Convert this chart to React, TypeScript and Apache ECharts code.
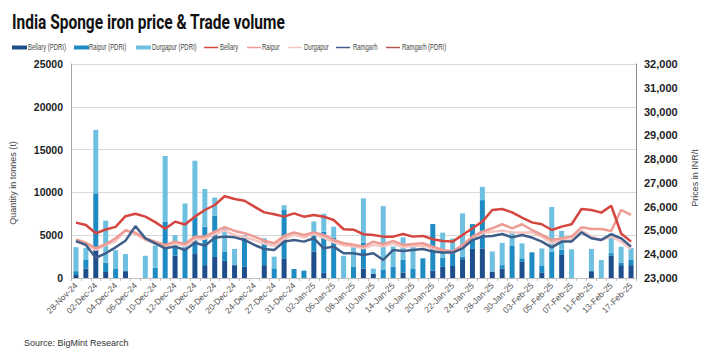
import React, { useEffect, useRef } from "react";
import * as echarts from "echarts";

const dates = [
  "28-Nov-24", "29-Nov-24", "02-Dec-24", "03-Dec-24", "04-Dec-24", "05-Dec-24", "06-Dec-24", "09-Dec-24",
  "10-Dec-24", "11-Dec-24", "12-Dec-24", "13-Dec-24", "16-Dec-24", "17-Dec-24", "18-Dec-24", "19-Dec-24",
  "20-Dec-24", "23-Dec-24", "24-Dec-24", "26-Dec-24", "27-Dec-24", "30-Dec-24", "31-Dec-24", "01-Jan-25",
  "02-Jan-25", "03-Jan-25", "06-Jan-25", "07-Jan-25", "08-Jan-25", "09-Jan-25", "10-Jan-25", "13-Jan-25",
  "14-Jan-25", "15-Jan-25", "16-Jan-25", "17-Jan-25", "20-Jan-25", "21-Jan-25", "22-Jan-25", "23-Jan-25",
  "24-Jan-25", "27-Jan-25", "28-Jan-25", "29-Jan-25", "30-Jan-25", "31-Jan-25", "03-Feb-25", "04-Feb-25",
  "05-Feb-25", "06-Feb-25", "07-Feb-25", "10-Feb-25", "11-Feb-25", "12-Feb-25", "13-Feb-25", "14-Feb-25",
  "17-Feb-25",
];

const bellaryVol = [
  350, 1100, 3500, 700, 0, 800, 0, 0, 0, 0, 2600, 0, 2800, 1500, 2450, 2000,
  1500, 1300, 0, 1500, 0, 2300, 0, 0, 3100, 600, 0, 0, 0, 1100, 500, 0,
  0, 650, 0, 0, 850, 1300, 1400, 2200, 3400, 3450, 750, 1100, 0, 1900, 0, 600,
  0, 2700, 0, 0, 800, 0, 2600, 1500, 1500,
];
const raipurVol = [
  450, 1000, 6400, 1100, 1050, 0, 0, 0, 1200, 6600, 1200, 3300, 4300, 4500, 4850, 1100,
  0, 3500, 0, 2700, 1050, 5700, 1050, 860, 2300, 4800, 4700, 0, 1300, 3000, 0, 1000,
  1300, 1500, 1050, 2300, 5450, 1100, 1500, 300, 2900, 5650, 0, 400, 3800, 400, 3000, 800,
  3100, 600, 0, 0, 0, 0, 300, 300, 600,
];
const durgapurVol = [
  2800, 1400, 7400, 4900, 2200, 2000, 0, 2600, 2600, 7650, 1200, 5400, 6600, 4400, 2100, 2700,
  1900, 200, 0, 450, 1450, 500, 0, 0, 1200, 2100, 1300, 2600, 2300, 5200, 600, 7400,
  2400, 2600, 2650, 0, 0, 2900, 1700, 5050, 0, 1550, 2350, 2600, 1600, 1750, 0, 2050,
  5200, 2200, 3350, 0, 2600, 2100, 2300, 1850, 1400,
];

const bellaryPrice = [
  25330, 25230, 24880, 25040, 25150, 25600, 25700, 25580, 25350, 25070, 25370, 25250, 25580, 25860, 26070, 26440,
  26320, 26250, 26000, 25760, 25680, 25580, 25720, 25580, 25650, 25580, 25440, 25050, 25030, 24840, 24810, 24740,
  24740, 24850, 24740, 24770, 24630, 24560, 24530, 24810, 25090, 25370, 25860, 25900, 25760, 25540, 25340, 25260,
  25020, 25160, 25260, 25900, 25860, 25750, 26040, 24870, 24530,
];
const raipurPrice = [
  24620, 24480, 24250, 24420, 24670, 25000, 24900, 24670, 24530, 24390, 24530, 24430, 24740, 24740, 24950, 25140,
  24980, 24880, 24740, 24570, 24460, 24770, 24920, 24810, 24920, 24810, 24600, 24460, 24400, 24320, 24530, 24420,
  24560, 24390, 24430, 24460, 24320, 24180, 24110, 24390, 24740, 24950, 25090, 25260, 25090, 25260, 25020, 24810,
  24600, 24670, 24740, 25130, 25060, 25060, 24980, 25860, 25650,
];
const durgapurPrice = [
  24550, 24400, 24180, 24380, 24550, 25020, 24850, 24600, 24450, 24300, 24450, 24350, 24620, 24650, 24850, 25000,
  24800, 24720, 24600, 24450, 24350, 24650, 24820, 24700, 24850, 24700, 24500, 24380, 24330, 24250, 24400, 24330,
  24450, 24300, 24350, 24350, 24250, 24120, 24070, 24300, 24650, 24880, 24950, 25000, 24920, 24900, 24920, 24740,
  24460, 24600, 24600, 24990, 24740, 24600, 24740, 24530, 24220,
];
const ramgarhPrice = [
  24550, 24390, 23850, 24040, 24290, 24570, 25180, 24670, 24460, 24250, 24320, 24180, 24480, 24360, 24690, 24740,
  24710, 24600, 24390, 24220, 24180, 24530, 24600, 24530, 24670, 24250, 24320, 24040, 24040, 23970, 24040, 23760,
  24180, 24140, 24180, 24220, 24110, 24070, 24070, 24250, 24600, 24740, 24770, 24850, 24710, 24810, 24700, 24530,
  24290, 24530, 24530, 24920, 24670, 24600, 24840, 24670, 24320,
];
const ramgarhPdriPrice: (number | null)[] = [];

const leftTicks = { min: 0, max: 25000, interval: 5000 };
const rightTicks = { min: 23000, max: 32000, interval: 1000 };

const title = "India Sponge iron price & Trade volume";
const source = "Source: BigMint Research";

const barNames = ["Bellary (PDRI)", "Raipur (PDRI)", "Durgapur (PDRI)"];
const barColors = ["#1f4e8c", "#1e8bc3", "#6ec0e0"];
const lineNames = ["Bellary", "Raipur", "Durgapur", "Ramgarh", "Ramgarh (PDRI)"];
const lineColors = ["#d4463f", "#ee9b93", "#f6c6c2", "#3f5f8a", "#b4574c"];
// legend layout: icon start x, text start x
const legendIconX = [12, 74, 136, 204, 247, 288, 336, 386];
const legendTextX = [28, 89, 152, 220, 262, 304, 353, 402];

export default function App() {
  const ref = useRef<HTMLDivElement>(null);
  useEffect(() => {
    if (!ref.current) return;
    const chart = echarts.init(ref.current, null, { renderer: "svg" });
    const font = "'Liberation Sans', Arial, sans-serif";
    const lineSeries = (name: string, data: (number | null)[], color: string, width: number, z: number) => ({
      name,
      type: "line",
      yAxisIndex: 1,
      data,
      symbol: "none",
      z,
      lineStyle: { color, width },
      itemStyle: { color },
    });
    const barSeries = (name: string, data: number[], color: string) => ({
      name,
      type: "bar",
      stack: "vol",
      yAxisIndex: 0,
      data,
      barWidth: 5,
      itemStyle: { color },
    });

    const legendY = 47.5;
    const legendEls: any[] = [];
    const allNames = [...barNames, ...lineNames];
    const allColors = [...barColors, ...lineColors];
    allNames.forEach((name, i) => {
      const ix = legendIconX[i];
      if (i < barNames.length) {
        legendEls.push({
          type: "rect",
          shape: { x: ix, y: legendY - 2, width: 15, height: 4 },
          style: { fill: allColors[i] },
        });
      } else {
        legendEls.push({
          type: "line",
          shape: { x1: ix, y1: legendY, x2: ix + 14, y2: legendY },
          style: { stroke: allColors[i], lineWidth: 1.5 },
        });
      }
      legendEls.push({
        type: "text",
        x: legendTextX[i],
        y: legendY,
        scaleX: 0.7,
        style: {
          text: name,
          fontSize: 8.5,
          fill: "#444",
          fontFamily: font,
          verticalAlign: "middle",
        },
      });
    });

    chart.setOption({
      animation: false,
      backgroundColor: "#ffffff",
      textStyle: { fontFamily: font },
      graphic: [
        {
          type: "text",
          x: 12,
          y: 12,
          scaleX: 0.775,
          style: {
            text: title,
            fontSize: 20,
            fontWeight: "bold",
            fontFamily: "Roboto, 'Liberation Sans', sans-serif",
            fill: "#111",
          },
        },
        {
          type: "text",
          x: 24,
          y: 338,
          style: { text: source, fontSize: 9, fill: "#333", fontFamily: font },
        },
        ...legendEls,
      ],
      grid: { left: 65, right: 72, top: 64, bottom: 76 },
      xAxis: {
        type: "category",
        data: dates,
        boundaryGap: true,
        axisLine: { lineStyle: { color: "#bfbfbf" } },
        axisTick: { show: true, interval: 0, length: 3, lineStyle: { color: "#bfbfbf" } },
        axisLabel: { interval: 1, rotate: 45, fontSize: 8.5, color: "#555", margin: 6 },
      },
      yAxis: [
        {
          type: "value",
          ...leftTicks,
          name: "Quantity in tonnes (t)",
          nameLocation: "middle",
          nameGap: 54,
          nameTextStyle: { fontSize: 9, color: "#444", padding: [0, 24, 0, 0] },
          axisLine: { show: true, lineStyle: { color: "#a6a6a6" } },
          axisTick: { show: false },
          splitLine: { lineStyle: { color: "#d9d9d9" } },
          axisLabel: {
            fontSize: 10.5,
            fontWeight: "bold",
            color: "#222",
            margin: 8,
            formatter: (v: number) => String(v),
          },
        },
        {
          type: "value",
          ...rightTicks,
          position: "right",
          name: "Prices in INR/t",
          nameLocation: "middle",
          nameGap: 54,
          nameTextStyle: { fontSize: 9, color: "#444", padding: [0, 14, 0, 0] },
          axisLine: { show: true, lineStyle: { color: "#8c8c8c" } },
          axisTick: { show: false },
          splitLine: { show: false },
          axisLabel: {
            fontSize: 11,
            fontWeight: "bold",
            color: "#222",
            margin: 8,
            formatter: (v: number) => v.toLocaleString("en-US"),
          },
        },
      ],
      series: [
        barSeries(barNames[0], bellaryVol, barColors[0]),
        barSeries(barNames[1], raipurVol, barColors[1]),
        barSeries(barNames[2], durgapurVol, barColors[2]),
        lineSeries(lineNames[0], bellaryPrice, lineColors[0], 2.5, 6),
        lineSeries(lineNames[1], raipurPrice, lineColors[1], 2.5, 4),
        lineSeries(lineNames[2], durgapurPrice, lineColors[2], 2.5, 3),
        lineSeries(lineNames[3], ramgarhPrice, lineColors[3], 2.5, 5),
        lineSeries(lineNames[4], ramgarhPdriPrice, lineColors[4], 2.5, 2),
      ],
    });
    return () => chart.dispose();
  }, []);
  return <div ref={ref} style={{ position: "fixed", left: 0, top: 0, width: 708, height: 354 }} />;
}
